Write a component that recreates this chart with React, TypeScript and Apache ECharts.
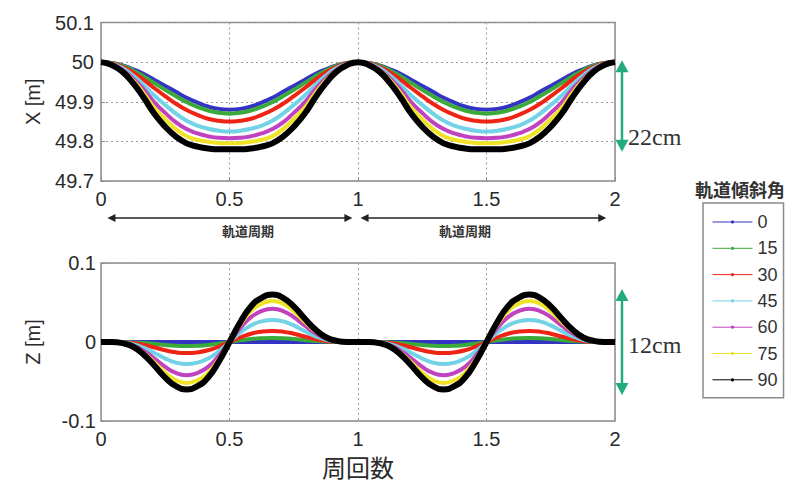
import React, { useEffect, useRef } from "react";
import * as echarts from "echarts";

// one orbital period, sampled every 1/24 period
const T = [0, 0.0417, 0.0833, 0.125, 0.1667, 0.2083, 0.25, 0.2917, 0.3333, 0.375, 0.4167, 0.4583, 0.5,
  0.5417, 0.5833, 0.625, 0.6667, 0.7083, 0.75, 0.7917, 0.8333, 0.875, 0.9167, 0.9583, 1];

const NAMES = ["0", "15", "30", "45", "60", "75", "90"];
const COLORS = ["#3434c4", "#3aaa3a", "#f02414", "#72d2e6", "#c042c0", "#f0e224", "#000000"];

// X position [m] per inclination, one period
const X0 = [50, 49.998, 49.992, 49.982, 49.970, 49.955, 49.940, 49.925, 49.910, 49.898, 49.888, 49.882, 49.880, 49.882, 49.888, 49.898, 49.910, 49.925, 49.940, 49.955, 49.970, 49.982, 49.992, 49.998, 50];
const X15 = [50, 49.998, 49.991, 49.979, 49.964, 49.947, 49.930, 49.914, 49.899, 49.887, 49.878, 49.872, 49.870, 49.872, 49.878, 49.887, 49.899, 49.914, 49.930, 49.947, 49.964, 49.979, 49.991, 49.998, 50];
const X30 = [50, 49.997, 49.988, 49.974, 49.955, 49.934, 49.914, 49.895, 49.879, 49.867, 49.857, 49.852, 49.850, 49.852, 49.857, 49.867, 49.879, 49.895, 49.914, 49.934, 49.955, 49.974, 49.988, 49.997, 50];
const X45 = [50, 49.996, 49.985, 49.966, 49.942, 49.915, 49.892, 49.870, 49.852, 49.840, 49.832, 49.827, 49.825, 49.827, 49.832, 49.840, 49.852, 49.870, 49.892, 49.915, 49.942, 49.966, 49.985, 49.996, 50];
const X60 = [50, 49.995, 49.981, 49.959, 49.931, 49.898, 49.872, 49.848, 49.831, 49.820, 49.813, 49.809, 49.808, 49.809, 49.813, 49.820, 49.831, 49.848, 49.872, 49.898, 49.931, 49.959, 49.981, 49.995, 50];
const X75 = [50, 49.994, 49.979, 49.954, 49.921, 49.884, 49.856, 49.831, 49.813, 49.804, 49.799, 49.796, 49.795, 49.796, 49.799, 49.804, 49.813, 49.831, 49.856, 49.884, 49.921, 49.954, 49.979, 49.994, 50];
const X90 = [50, 49.993, 49.976, 49.947, 49.910, 49.869, 49.837, 49.812, 49.795, 49.787, 49.782, 49.780, 49.780, 49.780, 49.782, 49.787, 49.795, 49.812, 49.837, 49.869, 49.910, 49.947, 49.976, 49.993, 50];

// Z position [m] per inclination, one period
const Z0 = [0, 0, 0, 0, 0, 0, 0, 0, 0, 0, 0, 0, 0, 0, 0, 0, 0, 0, 0, 0, 0, 0, 0, 0, 0];
const Z15 = [0, 0, -0.0001, -0.0005, -0.0013, -0.0025, -0.0038, -0.0047, -0.005, -0.0047, -0.0038, -0.0021, 0, 0.0021, 0.0038, 0.0047, 0.005, 0.0047, 0.0038, 0.0025, 0.0013, 0.0005, 0.0001, 0, 0];
const Z30 = [0, 0, -0.0004, -0.0014, -0.0037, -0.007, -0.0105, -0.0131, -0.014, -0.0131, -0.0105, -0.0058, 0, 0.0058, 0.0105, 0.0131, 0.014, 0.0131, 0.0105, 0.007, 0.0037, 0.0014, 0.0004, 0, 0];
const Z45 = [0, 0, -0.0007, -0.0028, -0.0075, -0.014, -0.021, -0.0261, -0.028, -0.0261, -0.021, -0.0117, 0, 0.0117, 0.021, 0.0261, 0.028, 0.0261, 0.021, 0.014, 0.0075, 0.0028, 0.0007, 0, 0];
const Z60 = [0, 0, -0.001, -0.0042, -0.0112, -0.021, -0.0315, -0.0392, -0.042, -0.0392, -0.0315, -0.0175, 0, 0.0175, 0.0315, 0.0392, 0.042, 0.0392, 0.0315, 0.021, 0.0112, 0.0042, 0.001, 0, 0];
const Z75 = [0, 0, -0.0013, -0.0052, -0.0139, -0.026, -0.039, -0.0485, -0.052, -0.0485, -0.039, -0.0217, 0, 0.0217, 0.039, 0.0485, 0.052, 0.0485, 0.039, 0.026, 0.0139, 0.0052, 0.0013, 0, 0];
const Z90 = [0, 0, -0.0015, -0.006, -0.016, -0.030, -0.045, -0.056, -0.060, -0.056, -0.045, -0.025, 0, 0.025, 0.045, 0.056, 0.060, 0.056, 0.045, 0.030, 0.016, 0.006, 0.0015, 0, 0];

const XS = [X0, X15, X30, X45, X60, X75, X90];
const ZS = [Z0, Z15, Z30, Z45, Z60, Z75, Z90];

const X_TICKS = ["0", "0.5", "1", "1.5", "2"];
const PERIOD_LABEL = "軌道周期";
const X_SPAN_LABEL = "22cm";
const Z_SPAN_LABEL = "12cm";
const LEGEND_TITLE = "軌道傾斜角";

// the picture repeats the same orbit for two periods
const twoPeriods = (vals: number[]) => {
  const out: number[][] = [];
  for (let p = 0; p < 2; p++) {
    T.forEach((t, i) => {
      if (p === 1 && i === 0) return;
      out.push([t + p, vals[i]]);
    });
  }
  return out;
};

const FONT = "'Liberation Sans', Arial, sans-serif";
const CJK = "'Noto Sans CJK JP', sans-serif";
const GREEN = "#22ac7c";

export default function App() {
  const ref = useRef<HTMLDivElement>(null);
  useEffect(() => {
    const chart = echarts.init(ref.current!, null, { renderer: "svg" });
    const gridCommon = { left: 101, width: 514, show: true, borderColor: "#8a8a8a", borderWidth: 1.5, backgroundColor: "#fff" };
    const xAxisCommon = {
      type: "value", min: 0, max: 2, interval: 0.5,
      axisLine: { show: false },
      axisTick: { show: true, inside: true, length: 4, lineStyle: { color: "#8a8a8a" } },
      axisLabel: { fontSize: 20, color: "#2a2a2a", fontFamily: FONT, margin: 8, formatter: (v: number) => X_TICKS[Math.round(v * 2)] },
      splitLine: { show: true, lineStyle: { color: "#9a9a9a", type: [2, 3], width: 1 } },
    };
    const series: any[] = [];
    XS.forEach((vals, i) => {
      series.push({
        name: NAMES[i], type: "line", xAxisIndex: 0, yAxisIndex: 0,
        data: twoPeriods(vals), smooth: 0.5, symbol: "circle", symbolSize: 3, showSymbol: false,
        lineStyle: { color: COLORS[i], width: i === 6 ? 6 : 4 }, itemStyle: { color: COLORS[i] },
      });
    });
    ZS.forEach((vals, i) => {
      series.push({
        name: NAMES[i], type: "line", xAxisIndex: 1, yAxisIndex: 1,
        data: twoPeriods(vals), smooth: 0.5, symbol: "circle", symbolSize: 3, showSymbol: false,
        lineStyle: { color: COLORS[i], width: i === 6 ? 6 : 4 }, itemStyle: { color: COLORS[i] },
      });
    });
    const option: any = {
      animation: false,
      backgroundColor: "#fff",
      grid: [
        { ...gridCommon, top: 22.5, height: 158.5 },
        { ...gridCommon, top: 263, height: 158 },
      ],
      xAxis: [
        { ...xAxisCommon, gridIndex: 0 },
        { ...xAxisCommon, gridIndex: 1, name: "周回数", nameLocation: "middle", nameGap: 33,
          nameTextStyle: { fontSize: 24, color: "#2a2a2a", fontFamily: CJK } },
      ],
      yAxis: [
        {
          type: "value", gridIndex: 0, min: 49.7, max: 50.1, interval: 0.1,
          name: "X [m]", nameLocation: "middle", nameGap: 58,
          nameTextStyle: { fontSize: 20, color: "#2a2a2a", fontFamily: FONT },
          axisLine: { show: false },
          axisTick: { show: true, inside: true, length: 4, lineStyle: { color: "#8a8a8a" } },
          axisLabel: { fontSize: 20, color: "#2a2a2a", fontFamily: FONT, margin: 7, formatter: (v: number) => String(+v.toFixed(1)) },
          splitLine: { show: true, lineStyle: { color: "#9a9a9a", type: [2, 3], width: 1 } },
        },
        {
          type: "value", gridIndex: 1, min: -0.1, max: 0.1, interval: 0.1,
          name: "Z [m]", nameLocation: "middle", nameGap: 58,
          nameTextStyle: { fontSize: 20, color: "#2a2a2a", fontFamily: FONT },
          axisLine: { show: false },
          axisTick: { show: true, inside: true, length: 4, lineStyle: { color: "#8a8a8a" } },
          axisLabel: { fontSize: 20, color: "#2a2a2a", fontFamily: FONT, margin: 5, formatter: (v: number) => String(+v.toFixed(1)) },
          splitLine: { show: true, lineStyle: { color: "#9a9a9a", type: [2, 3], width: 1 } },
        },
      ],
      legend: {
        data: NAMES, orient: "vertical", left: 703, top: 203,
        itemWidth: 40, itemHeight: 4, itemGap: 8.3,
        padding: [10, 6, 9, 9],
        borderColor: "#8a8a8a", borderWidth: 1.5, backgroundColor: "#fff",
        textStyle: { fontSize: 18, color: "#333", fontFamily: FONT, lineHeight: 18 },
        lineStyle: { width: 1 },
      },
      series,
    };
    chart.setOption(option);

    const px = (g: number, x: number, y: number) => chart.convertToPixel({ gridIndex: g } as any, [x, y]) as number[];
    const vArrow = (x: number, yTop: number, yBot: number, color: string) => {
      const L = 12, W = 6.5;
      return [
        { type: "line", shape: { x1: x, y1: yTop + L - 1, x2: x, y2: yBot - L + 1 }, style: { stroke: color, lineWidth: 2.5 } },
        { type: "polygon", shape: { points: [[x, yTop], [x - W, yTop + L], [x + W, yTop + L]] }, style: { fill: color } },
        { type: "polygon", shape: { points: [[x, yBot], [x - W, yBot - L], [x + W, yBot - L]] }, style: { fill: color } },
      ];
    };
    const hArrow = (x1: number, x2: number, y: number) => {
      const L = 8, W = 4, c = "#222";
      return [
        { type: "line", shape: { x1: x1 + L - 1, y1: y, x2: x2 - L + 1, y2: y }, style: { stroke: c, lineWidth: 1.5 } },
        { type: "polygon", shape: { points: [[x1, y], [x1 + L, y - W], [x1 + L, y + W]] }, style: { fill: c } },
        { type: "polygon", shape: { points: [[x2, y], [x2 - L, y - W], [x2 - L, y + W]] }, style: { fill: c } },
      ];
    };
    const xr = px(0, 2, 50)[0];
    const xTop = px(0, 2, 50.005)[1];
    const xBot = px(0, 2, 49.774)[1];
    const zTop = px(1, 2, 0.067)[1];
    const zBot = px(1, 2, -0.067)[1];
    const axisBottom = px(0, 0, 49.7)[1];
    const yArr = axisBottom + 37;
    const a0 = px(0, 0.025, 50)[0], a1 = px(0, 0.978, 50)[0], a2 = px(0, 1.01, 50)[0], a3 = px(0, 1.966, 50)[0];
    const graphic: any[] = [
      ...vArrow(xr + 7, xTop, xBot, GREEN),
      ...vArrow(xr + 7, zTop, zBot, GREEN),
      ...hArrow(a0, a1, yArr),
      ...hArrow(a2, a3, yArr),
      { type: "text", x: 248, y: yArr + 12, style: { text: PERIOD_LABEL, fill: "#333", font: `bold 13px ${CJK}`, align: "center", verticalAlign: "middle" } },
      { type: "text", x: 465, y: yArr + 12, style: { text: PERIOD_LABEL, fill: "#333", font: `bold 13px ${CJK}`, align: "center", verticalAlign: "middle" } },
      { type: "text", x: xr + 13, y: px(0, 2, 49.812)[1], style: { text: X_SPAN_LABEL, fill: "#333", font: `24px 'Liberation Serif', serif`, align: "left", verticalAlign: "middle" } },
      { type: "text", x: xr + 13, y: px(1, 2, -0.004)[1], style: { text: Z_SPAN_LABEL, fill: "#333", font: `24px 'Liberation Serif', serif`, align: "left", verticalAlign: "middle" } },
      { type: "text", x: 740, y: 189, style: { text: LEGEND_TITLE, fill: "#333", font: `bold 18px ${CJK}`, align: "center", verticalAlign: "middle" } },
    ];
    chart.setOption({ graphic });
    return () => chart.dispose();
  }, []);
  return <div ref={ref} style={{ position: "absolute", left: 0, top: 0, width: 794, height: 483 }} />;
}
